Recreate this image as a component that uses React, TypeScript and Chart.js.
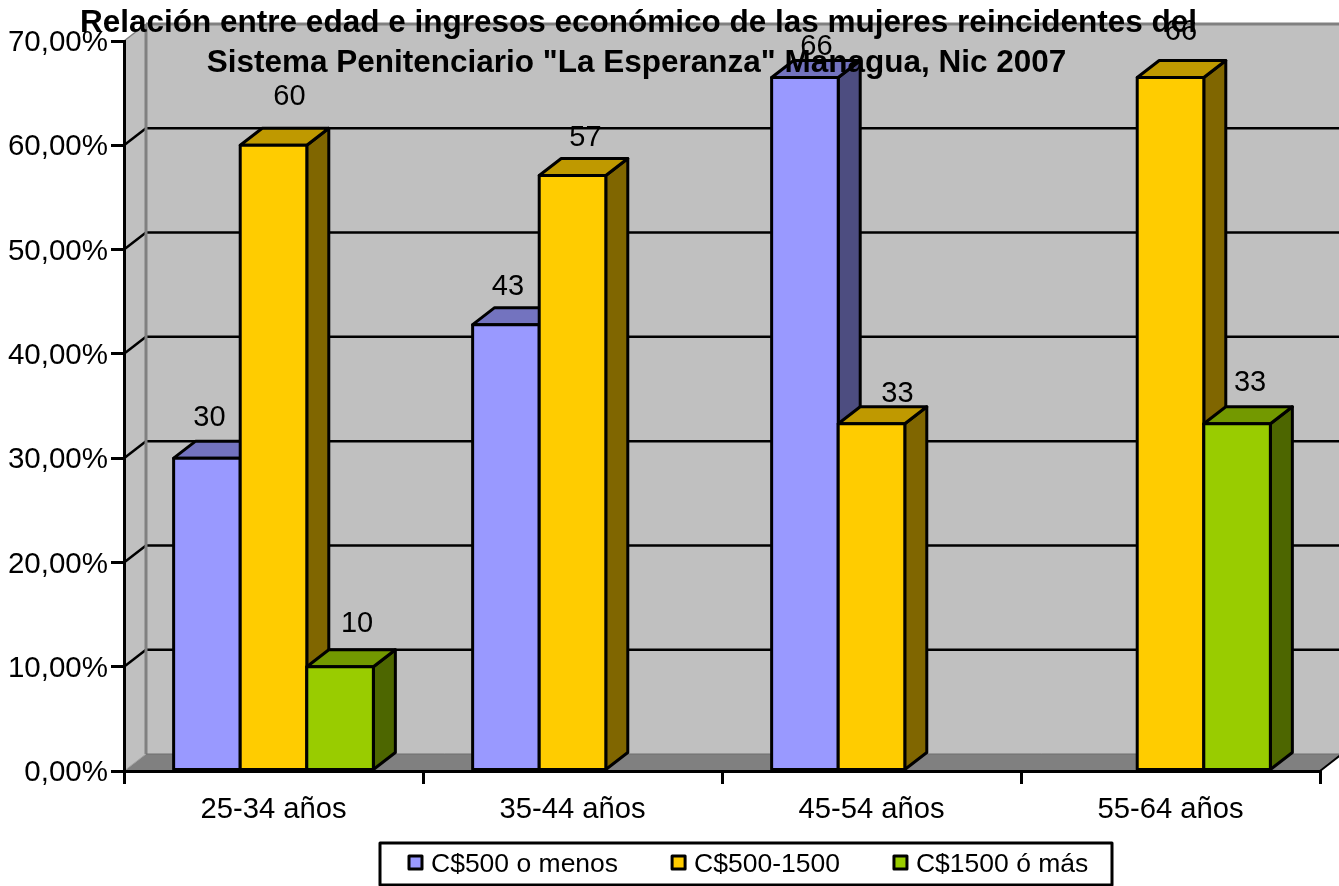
import React, { useEffect, useRef } from "react";
import { Chart, registerables } from "chart.js";

Chart.register(...registerables);

const categories = ["25-34 años", "35-44 años", "45-54 años", "55-64 años"];
const seriesNames = ["C$500 o menos", "C$500-1500", "C$1500 ó más"];
const lowIncome = [30, 42.8, 66.5, null];
const midIncome = [60, 57.1, 33.3, 66.5];
const highIncome = [10, null, null, 33.3];
const lowLabels = ["30", "43", "66", ""];
const midLabels = ["60", "57", "33", "66"];
const highLabels = ["10", "", "", "33"];
const titleLines = [
  "Relación entre edad e ingresos económico de las mujeres reincidentes del",
  'Sistema Penitenciario "La Esperanza" Managua, Nic 2007',
];
const gridValues = [10, 20, 30, 40, 50, 60];

const FONT = '"Liberation Sans", Arial, sans-serif';
const DX = 22;
const DY = 17;
const frontColors = ["#9999FF", "#FFCC00", "#99CC00"];
const sideColors = ["#4D4D80", "#806600", "#4D6600"];
const topColors = ["#7373BF", "#BF9900", "#739900"];
const valueLabels = [lowLabels, midLabels, highLabels];
// label centre offset from the top-centre of each bar's front face
const labelOffsets = [
  [[2.5, -41], [2, -39], [11.5, -32], [0, 0]],
  [[16, -49], [13, -39], [26, -31], [10.5, -47]],
  [[17, -44], [0, 0], [0, 0], [13, -42]],
];

function poly(ctx: CanvasRenderingContext2D, pts: number[][], fill?: string, stroke?: string, lw = 3) {
  ctx.beginPath();
  pts.forEach((p, i) => (i ? ctx.lineTo(p[0], p[1]) : ctx.moveTo(p[0], p[1])));
  ctx.closePath();
  if (fill) {
    ctx.fillStyle = fill;
    ctx.fill();
  }
  if (stroke) {
    ctx.strokeStyle = stroke;
    ctx.lineWidth = lw;
    ctx.lineJoin = "round";
    ctx.stroke();
  }
}

function line(ctx: CanvasRenderingContext2D, x1: number, y1: number, x2: number, y2: number, color: string, lw: number) {
  ctx.beginPath();
  ctx.moveTo(x1, y1);
  ctx.lineTo(x2, y2);
  ctx.strokeStyle = color;
  ctx.lineWidth = lw;
  ctx.stroke();
}

const walls3d = {
  id: "walls3d",
  beforeDraw(chart: any) {
    const { ctx, chartArea: a, scales } = chart;
    const y = scales.y;
    const b = a.bottom;
    const t = a.top;
    ctx.save();
    // back wall
    poly(ctx, [[a.left + DX, t - DY], [a.right + DX, t - DY], [a.right + DX, b - DY], [a.left + DX, b - DY]], "#C0C0C0");
    // side wall
    poly(ctx, [[a.left, t], [a.left + DX, t - DY], [a.left + DX, b - DY], [a.left, b]], "#C0C0C0");
    // floor
    poly(ctx, [[a.left, b], [a.left + DX, b - DY], [a.right + DX, b - DY], [a.right, b]], "#808080");
    // grid lines
    gridValues.forEach((v) => {
      const py = y.getPixelForValue(v);
      line(ctx, a.left + DX, py - DY, a.right + DX, py - DY, "#000000", 2.5);
      line(ctx, a.left, py, a.left + DX, py - DY, "#000000", 2.5);
    });
    // wall outline
    line(ctx, a.left + DX, t - DY, a.right + DX, t - DY, "#808080", 3);
    line(ctx, a.left + DX, t - DY, a.left + DX, b - DY, "#808080", 3);
    line(ctx, a.left, t, a.left + DX, t - DY, "#808080", 1.5);
    line(ctx, a.left + DX, b - DY, a.right + DX, b - DY, "#6E6E6E", 1);
    line(ctx, a.left, b, a.left + DX, b - DY, "#A0A0A0", 1);
    line(ctx, a.right, b, a.right + DX, b - DY, "#000000", 2);
    ctx.restore();
  },
  beforeDatasetDraw() {
    return false;
  },
  afterDatasetsDraw(chart: any) {
    const { ctx } = chart;
    ctx.save();
    for (let c = 0; c < categories.length; c++) {
      chart.data.datasets.forEach((_: any, ds: number) => {
        const el = chart.getDatasetMeta(ds).data[c];
        if (!el || !Number.isFinite(el.y) || chart.data.datasets[ds].data[c] == null) return;
        const l = el.x - el.width / 2;
        const r = el.x + el.width / 2;
        const top = el.y;
        const base = el.base;
        poly(ctx, [[r, top], [r + DX, top - DY], [r + DX, base - DY], [r, base]], sideColors[ds], "#000000");
        poly(ctx, [[l, top], [l + DX, top - DY], [r + DX, top - DY], [r, top]], topColors[ds], "#000000");
        poly(ctx, [[l, top], [r, top], [r, base], [l, base]], frontColors[ds], "#000000");
      });
    }
    // value labels
    ctx.fillStyle = "#000000";
    ctx.font = `29px ${FONT}`;
    ctx.textAlign = "center";
    ctx.textBaseline = "middle";
    chart.data.datasets.forEach((_: any, ds: number) => {
      chart.getDatasetMeta(ds).data.forEach((el: any, c: number) => {
        const text = valueLabels[ds][c];
        if (!text) return;
        const off = labelOffsets[ds][c];
        ctx.fillText(text, el.x + off[0], el.y + off[1] + 1);
      });
    });
    // title
    ctx.font = `bold 31.5px ${FONT}`;
    ctx.fillText(titleLines[0], 638.5, 23);
    ctx.fillText(titleLines[1], 636.5, 63);
    // legend
    const boxL = 380;
    const boxR = 1112;
    const boxT = 843;
    const boxB = 885;
    ctx.strokeStyle = "#000000";
    ctx.lineWidth = 3;
    ctx.strokeRect(boxL, boxT, boxR - boxL, boxB - boxT);
    ctx.font = `26.5px ${FONT}`;
    ctx.textAlign = "left";
    let x = 409;
    seriesNames.forEach((name, i) => {
      ctx.fillStyle = frontColors[i];
      ctx.fillRect(x, 856, 13, 13);
      ctx.strokeRect(x, 856, 13, 13);
      ctx.fillStyle = "#000000";
      const w = ctx.measureText(name).width;
      ctx.fillText(name, x + 22, 865);
      x += 21 + w + 55;
    });
    ctx.restore();
  },
};

export default function App() {
  const ref = useRef<HTMLCanvasElement>(null);
  useEffect(() => {
    document.body.style.margin = "0";
    document.body.style.overflow = "hidden";
    const chart = new Chart(ref.current as HTMLCanvasElement, {
      type: "bar",
      data: {
        labels: categories,
        datasets: [
          { label: seriesNames[0], data: lowIncome, backgroundColor: frontColors[0] },
          { label: seriesNames[1], data: midIncome, backgroundColor: frontColors[1] },
          { label: seriesNames[2], data: highIncome, backgroundColor: frontColors[2] },
        ],
      },
      options: {
        animation: false,
        responsive: false,
        layout: { padding: { top: 41, right: 19, bottom: 60, left: 0 } },
        datasets: { bar: { categoryPercentage: 0.668, barPercentage: 1 } },
        plugins: { legend: { display: false }, title: { display: false }, tooltip: { enabled: false } },
        scales: {
          x: {
            afterFit: (s: any) => {
              s.height = 55;
            },
            grid: { drawOnChartArea: false, drawTicks: true, tickLength: 13, color: "#000000", lineWidth: 3, offset: true },
            border: { display: true, color: "#000000", width: 3 },
            ticks: { color: "#000000", padding: 8, font: { family: FONT, size: 29.2 }, maxRotation: 0 },
          },
          y: {
            min: 0,
            max: 70,
            afterFit: (s: any) => {
              s.width = 124;
            },
            grid: { drawOnChartArea: false, drawTicks: true, tickLength: 13, color: "#000000", lineWidth: 3 },
            border: { display: true, color: "#000000", width: 3 },
            ticks: {
              stepSize: 10,
              color: "#000000",
              padding: 3,
              labelOffset: 2,
              font: { family: FONT, size: 29.5 },
              callback: (v: any) => Number(v).toFixed(2).replace(".", ",") + "%",
            },
          },
        },
      },
      plugins: [walls3d],
    } as any);
    return () => chart.destroy();
  }, []);
  return (
    <canvas
      ref={ref}
      width={1339}
      height={886}
      style={{ position: "fixed", left: 0, top: 0, display: "block", width: 1339, height: 886 }}
    />
  );
}
